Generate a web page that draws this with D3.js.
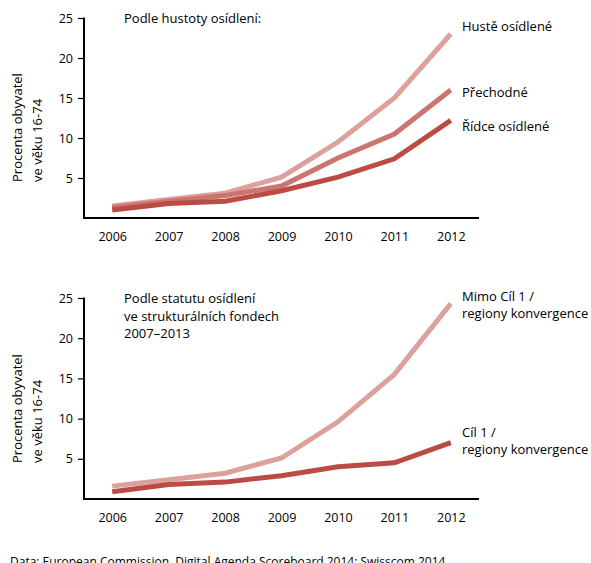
<!DOCTYPE html>
<html><head><meta charset="utf-8">
<script src="https://cdn.jsdelivr.net/npm/d3@7"></script>
<style>
body{margin:0;background:#fff;}
text{font-family:"Open Sans",sans-serif;fill:#000;}
</style></head>
<body><svg id="c" width="591" height="563"></svg>
<script>
const years = ["2006","2007","2008","2009","2010","2011","2012"];
const yTicks = [5,10,15,20,25];
// top panel
const husteOsidlene = [1.5,2.3,3.1,5.1,9.5,15.0,23.0];
const prechodne = [1.3,2.1,2.8,4.0,7.5,10.5,16.0];
const ridceOsidlene = [1.0,1.8,2.1,3.4,5.1,7.4,12.2];
// bottom panel
const mimoCil1 = [1.6,2.4,3.2,5.1,9.6,15.5,24.3];
const cil1 = [0.9,1.8,2.1,2.9,4.0,4.5,7.0];

const colLight="#dca19c", colMid="#cc7470", colDark="#bc4b44";

const svg=d3.select("#c");
const x=d3.scalePoint().domain(years).range([84,479]).padding(0.5);

function panel(top, bottom, title, series, yLabel){
  const y=d3.scaleLinear().domain([0,25]).range([bottom,top]);
  const g=svg.append("g");
  // y axis
  const ya=g.append("g").attr("transform","translate(84,0)")
    .call(d3.axisLeft(y).tickValues(yTicks).tickSize(6).tickSizeOuter(0).tickPadding(5));
  ya.select(".domain").remove();
  ya.selectAll(".tick line").attr("stroke","#000").attr("stroke-width",1.2);
  ya.selectAll(".tick text").attr("font-size",12.5).attr("font-family","Open Sans").attr("fill","#000");
  g.append("line").attr("x1",84).attr("x2",84).attr("y1",y(25)-0.5).attr("y2",bottom+1).attr("stroke","#000").attr("stroke-width",2);
  // x axis
  const xa=g.append("g").attr("transform",`translate(0,${bottom})`)
    .call(d3.axisBottom(x).tickSize(0).tickPadding(14));
  xa.select(".domain").remove();
  xa.selectAll(".tick text").attr("font-size",12.5).attr("font-family","Open Sans").attr("fill","#000");
  g.append("line").attr("x1",83).attr("x2",479).attr("y1",bottom).attr("y2",bottom).attr("stroke","#000").attr("stroke-width",2);
  // lines
  const line=d3.line().x((d,i)=>x(years[i])).y(d=>y(d));
  series.forEach(s=>{
    g.append("path").datum(s.values).attr("d",line).attr("fill","none")
      .attr("stroke",s.color).attr("stroke-width",5).attr("stroke-linejoin","miter");
    const t=g.append("text").attr("x",462).attr("y",y(s.labelAt)).attr("font-size",13);
    s.label.forEach((l,i)=>t.append("tspan").attr("x",462).attr("dy",i?17:0).attr("dominant-baseline","middle").text(l));
  });
  // title
  const tt=g.append("text").attr("x",124).attr("y",top+5).attr("font-size",13);
  title.forEach((l,i)=>tt.append("tspan").attr("x",124).attr("dy",i?17.5:0).text(l));
  // y label
  const yl=g.append("text").attr("transform",`translate(0,${bottom-36}) rotate(-90)`).attr("font-size",13);
  yLabel.forEach((l,i)=>yl.append("tspan").attr("x",0).attr("y",i?42:22).text(l));
}

panel(18,218,["Podle hustoty osídlení:"],[
  {values:husteOsidlene,color:colLight,label:["Hustě osídlené"],labelAt:23.8},
  {values:prechodne,color:colMid,label:["Přechodné"],labelAt:15.5},
  {values:ridceOsidlene,color:colDark,label:["Řídce osídlené"],labelAt:11.3}
],["Procenta obyvatel","ve věku 16-74"]);

panel(298,499,["Podle statutu osídlení","ve strukturálních fondech","2007–2013"],[
  {values:mimoCil1,color:colLight,label:["Mimo Cíl 1 /","regiony konvergence"],labelAt:25},
  {values:cil1,color:colDark,label:["Cíl 1 /","regiony konvergence"],labelAt:8.2}
],["Procenta obyvatel","ve věku 16-74"]);

svg.append("text").attr("x",10).attr("y",566).attr("font-size",12).text("Data:  European Commission, Digital Agenda Scoreboard 2014; Swisscom 2014");
</script></body></html>
